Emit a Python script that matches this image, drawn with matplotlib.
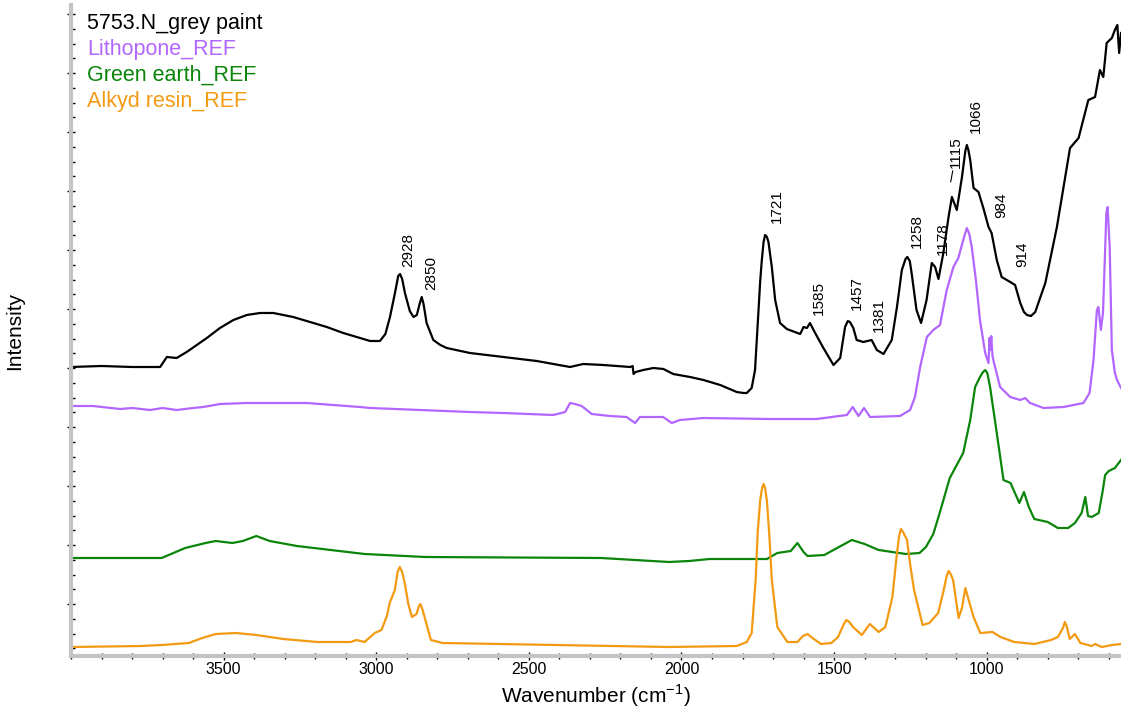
import numpy as np
import matplotlib
matplotlib.use("Agg")
import matplotlib.pyplot as plt
from matplotlib.ticker import MultipleLocator, FixedLocator, NullFormatter

plt.rcParams['font.family'] = ['Liberation Sans', 'DejaVu Sans']
plt.rcParams['mathtext.fontset'] = 'custom'
plt.rcParams['mathtext.rm'] = 'Liberation Sans'

# ---------------- data (wavenumber cm-1, intensity in arbitrary stacked units) ----------------
grey_wn = [4000, 3900, 3800, 3708, 3686, 3654, 3621, 3588, 3555, 3512, 3468, 3424, 3381, 3337,
           3272, 3206, 3162, 3108, 3053, 3020, 2988, 2970, 2955, 2938, 2928, 2922, 2915, 2906,
           2890, 2878, 2867, 2858, 2851, 2845, 2835, 2813, 2790, 2769, 2693, 2584, 2474, 2365,
           2322, 2256, 2168, 2160, 2157, 2150, 2125, 2092, 2059, 2027, 1972, 1928, 1873, 1819,
           1797, 1786, 1770, 1759, 1748, 1742, 1737, 1731, 1726, 1720, 1715, 1709, 1704, 1693,
           1677, 1655, 1611, 1600, 1589, 1579, 1562, 1535, 1502, 1480, 1464, 1455, 1448, 1437,
           1426, 1404, 1377, 1360, 1338, 1311, 1294, 1278, 1266, 1260, 1252, 1246, 1230, 1215,
           1197, 1180, 1169, 1158, 1142, 1125, 1114, 1098, 1081, 1070, 1065, 1060, 1054, 1043,
           1027, 1011, 994, 984, 967, 951, 923, 907, 890, 878, 868, 855, 841, 808, 770, 743, 727,
           699, 667, 645, 629, 618, 607, 590, 580, 572, 566, 560]
grey_int = [289, 290, 289, 289, 299, 298, 304, 311, 318, 328, 336, 341, 343, 343,
            339, 333, 329, 323, 318, 315, 315, 322, 339, 364, 380, 382, 377, 363,
            345, 339, 341, 352, 359, 352, 333, 316, 311, 308, 303, 299, 295, 289,
            292, 291, 289, 290, 282, 284, 286, 288, 287, 282, 279, 276, 271, 264,
            263, 263, 268, 286, 343, 375, 395, 414, 421, 419, 414, 400, 389, 356,
            333, 327, 322, 329, 328, 333, 323, 308, 291, 298, 329, 335, 334, 328,
            316, 314, 316, 306, 302, 316, 349, 386, 397, 399, 395, 383, 346, 333,
            356, 393, 389, 377, 403, 439, 459, 446, 479, 505, 511, 506, 496, 468,
            464, 448, 429, 423, 396, 379, 374, 371, 353, 344, 341, 340, 344, 373, 429, 479, 508,
            518, 556, 559, 586, 579, 613, 618, 626, 631, 603, 623]

litho_wn = [4000, 3928, 3839, 3800, 3741, 3700, 3654, 3600, 3567, 3512, 3424, 3228, 3141, 3053,
            3020, 2693, 2584, 2420, 2381, 2365, 2349, 2327, 2294, 2234, 2180, 2152, 2136, 2060,
            2032, 2005, 1928, 1710, 1557, 1458, 1439, 1420, 1402, 1382, 1284, 1251, 1235, 1218,
            1196, 1175, 1153, 1131, 1109, 1093, 1075, 1065, 1057, 1049, 1035, 1022, 1005, 994,
            991, 988, 985, 981, 976, 956, 923, 890, 874, 858, 814, 748, 683, 663, 650, 639, 634,
            626, 619, 615, 608, 604, 597, 590, 580, 573, 560]
litho_int = [250, 250, 247, 248, 246, 248, 246, 248, 249, 252, 253, 253, 251, 249,
             248, 244, 243, 241, 244, 253, 252, 250, 242, 240, 239, 233, 239, 239,
             233, 236, 238, 237, 237, 241, 249, 240, 248, 239, 240, 246, 259, 289,
             319, 326, 331, 366, 389, 398, 418, 428, 422, 409, 375, 336, 303, 293,
             318, 306, 320, 300, 293, 269, 259, 256, 258, 253, 248, 249, 253, 263, 296, 346, 349,
             326, 343, 379, 443, 449, 409, 306, 283, 276, 268]

green_wn = [4000, 3703, 3626, 3559, 3526, 3471, 3437, 3393, 3349, 3260, 3149, 3038, 2839, 2263,
            2152, 2041, 1975, 1908, 1720, 1686, 1642, 1620, 1600, 1587, 1532, 1490, 1442, 1400,
            1354, 1265, 1220, 1199, 1175, 1154, 1121, 1077, 1054, 1038, 1022, 1012, 1005, 998,
            989, 967, 945, 922, 893, 878, 862, 844, 800, 767, 733, 711, 689, 677, 668, 656, 633,
            620, 612, 600, 580, 560]
green_int = [98, 98, 108, 113, 115, 113, 115, 120, 115, 110, 106, 102, 99, 98,
             96, 94, 95, 97, 97, 103, 105, 113, 104, 100, 101, 108, 116, 112,
             106, 102, 103, 109, 122, 143, 178, 203, 236, 269, 279, 284, 286, 283,
             269, 223, 176, 173, 153, 164, 149, 137, 134, 128, 128, 133, 143, 159, 140, 139, 143,
             165, 181, 185, 188, 196]

alkyd_wn = [4000, 3770, 3703, 3614, 3570, 3526, 3459, 3393, 3304, 3193, 3083, 3065, 3038, 3005,
            2983, 2965, 2956, 2939, 2930, 2923, 2915, 2906, 2895, 2883, 2868, 2860, 2855, 2848,
            2839, 2821, 2783, 2595, 2041, 1819, 1786, 1770, 1757, 1750, 1742, 1736, 1731, 1726,
            1720, 1712, 1704, 1686, 1653, 1620, 1602, 1587, 1571, 1543, 1509, 1487, 1468, 1460,
            1450, 1438, 1409, 1383, 1354, 1332, 1309, 1295, 1287, 1281, 1274, 1261, 1250, 1238,
            1210, 1188, 1159, 1143, 1131, 1125, 1118, 1110, 1092, 1081, 1070, 1059, 1043, 1021,
            981, 955, 910, 844, 789, 767, 750, 744, 738, 728, 711, 693, 656, 645, 623, 589, 560]
alkyd_int = [9, 10, 11, 13, 18, 22, 23, 21, 17, 14, 14, 16, 14, 23,
             26, 40, 53, 66, 84, 89, 84, 72, 52, 39, 42, 50, 52, 46,
             36, 16, 13, 12, 9, 10, 14, 23, 76, 125, 156, 168, 172, 168,
             155, 120, 76, 29, 14, 14, 20, 22, 18, 12, 13, 19, 32, 36,
             34, 29, 21, 32, 24, 29, 59, 100, 120, 127, 124, 116, 90, 66,
             31, 33, 43, 63, 80, 85, 82, 76, 38, 48, 68, 56, 39, 23,
             24, 19, 14, 12, 16, 19, 28, 34, 30, 17, 22, 13, 10, 12, 9, 11, 12]

series_names = ['5753.N_grey paint', 'Lithopone_REF', 'Green earth_REF', 'Alkyd resin_REF']
series_colors = ['#000000', '#B266FF', '#0A850A', '#F39A12']

peak_labels = ['2928', '2850', '1721', '1585', '1457', '1381', '1258', '1178', '1115', '1066', '984', '914']
label_wn = [2896, 2820, 1687, 1549, 1425, 1353, 1228, 1143, 1100, 1035, 953, 884]
label_int = [389, 366, 433, 341, 346, 324, 408, 401, 488, 523, 438, 389]

# ---------------- figure ----------------
fig = plt.figure(figsize=(11.21, 7.18), dpi=100)
ax = fig.add_axes([71 / 1121, 62 / 718, 1050 / 1121, 651 / 718])

data = [(grey_wn, grey_int), (litho_wn, litho_int), (green_wn, green_int), (alkyd_wn, alkyd_int)]
for (wn, iv), c in zip(data, series_colors):
    ax.plot(wn, iv, color=c, lw=1.6, solid_joinstyle='round')

ax.set_xlim(4000, 560)
ax.set_ylim(0, 651)

for s in ['top', 'right']:
    ax.spines[s].set_visible(False)
for s in ['left', 'bottom']:
    ax.spines[s].set_color('#c4c4c4')
    ax.spines[s].set_linewidth(3)

ax.set_xticks([3500, 3000, 2500, 2000, 1500, 1000])
ax.xaxis.set_minor_locator(MultipleLocator(100))
ax.yaxis.set_major_locator(FixedLocator(np.arange(52, 651, 59)))
ax.yaxis.set_minor_locator(FixedLocator(np.arange(7.75, 651, 14.75)))
ax.yaxis.set_major_formatter(NullFormatter())
ax.tick_params(axis='x', which='major', direction='inout', length=6, width=1, labelsize=11.5, pad=1)
ax.tick_params(axis='x', which='minor', direction='inout', length=4, width=1)
ax.tick_params(axis='y', which='major', direction='inout', length=6, width=1)
ax.tick_params(axis='y', which='minor', direction='in', length=3, width=1)

ax.set_xlabel('Wavenumber (cm$^{\\mathregular{-1}}$)', fontsize=15, labelpad=4)
ax.set_ylabel('Intensity', fontsize=15, labelpad=27)

# legend as coloured text
for i, (name, c) in enumerate(zip(series_names, series_colors)):
    fig.text(87 / 1121, 1 - (24 + 25.7 * i) / 718, name, color=c, fontsize=15.5,
             ha='left', va='center')

# peak labels
for txt, x, y in zip(peak_labels, label_wn, label_int):
    if txt == '1115':
        ax.annotate(txt, xy=(1118, 474), xytext=(x, y), rotation=90, ha='center', va='bottom',
                    fontsize=11, arrowprops=dict(arrowstyle='-', lw=0.8, color='black',
                                                 shrinkA=0, shrinkB=0))
    else:
        ax.text(x, y, txt, rotation=90, ha='center', va='bottom', fontsize=11)

fig.savefig('out.png', dpi=100)
